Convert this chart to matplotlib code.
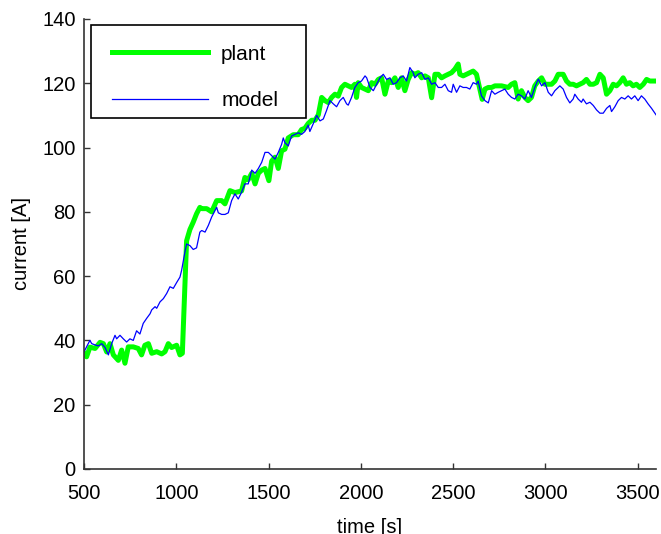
import matplotlib
matplotlib.use("Agg")
import matplotlib.pyplot as plt
from matplotlib.patches import Rectangle

# plant current [A] vs time [s]
t_plant = [496, 514, 532, 560, 587, 605, 623, 641, 659, 686, 704, 722, 740, 767,
           794, 812, 830, 849, 867, 894, 921, 939, 957, 975, 1002, 1020, 1033,
           1056, 1074, 1092, 1110, 1128, 1138, 1165, 1192, 1219, 1246, 1264,
           1291, 1318, 1354, 1372, 1390, 1409, 1427, 1445, 1463, 1481, 1502,
           1517, 1535, 1553, 1571, 1589, 1607, 1634, 1661, 1679, 1697, 1715,
           1734, 1752, 1770, 1788, 1806, 1824, 1842, 1860, 1878, 1896, 1914,
           1932, 1950, 1968, 1977, 1986, 2004, 2023, 2041, 2059, 2077, 2095,
           2113, 2131, 2149, 2167, 2185, 2203, 2221, 2239, 2257, 2275, 2293,
           2311, 2330, 2348, 2366, 2384, 2402, 2420, 2438, 2456, 2474, 2492,
           2510, 2528, 2537, 2555, 2573, 2591, 2609, 2627, 2645, 2658, 2673,
           2691, 2709, 2727, 2763, 2799, 2817, 2835, 2853, 2871, 2889, 2907,
           2925, 2943, 2962, 2980, 2998, 3034, 3052, 3070, 3097, 3115, 3133,
           3151, 3169, 3187, 3205, 3223, 3242, 3260, 3278, 3296, 3314, 3332,
           3350, 3368, 3386, 3404, 3422, 3440, 3458, 3476, 3494, 3512, 3531,
           3549, 3567, 3585, 3600]
i_plant = [36.4, 34.9, 37.9, 37.5, 39.4, 39.0, 36.4, 39.0, 35.5, 33.8, 37.0, 32.9,
           38.0, 38.0, 37.5, 35.5, 38.5, 39.0, 36.0, 36.5, 35.8, 36.5, 39.0, 37.8,
           38.5, 35.5, 36.0, 71.0, 74.5, 76.8, 79.4, 81.4, 81.0, 81.0, 80.0, 83.5,
           83.5, 82.5, 86.6, 86.0, 86.5, 90.7, 90.0, 92.0, 88.7, 92.0, 93.0, 93.5,
           89.7, 95.8, 97.0, 93.5, 99.0, 99.5, 103.0, 104.0, 104.0, 105.6, 106.0,
           107.5, 108.5, 108.5, 110.2, 115.6, 114.6, 114.0, 115.6, 116.6, 116.0,
           118.7, 119.7, 119.2, 118.7, 119.7, 115.6, 120.2, 118.7, 118.2, 117.7,
           120.2, 119.7, 121.2, 121.7, 116.6, 120.7, 120.2, 121.7, 118.7, 121.7,
           117.7, 121.2, 123.3, 122.8, 123.3, 121.7, 122.3, 121.7, 115.5, 122.8,
           122.8, 121.7, 122.3, 122.8, 123.3, 124.4, 126.0, 122.8, 122.3, 122.8,
           123.3, 123.8, 122.8, 118.2, 115.0, 118.2, 118.7, 118.7, 119.2, 119.2,
           118.7, 119.7, 120.2, 115.1, 117.7, 115.6, 114.6, 115.6, 119.2, 120.7,
           121.7, 119.7, 119.7, 120.7, 122.8, 122.8, 120.7, 119.7, 119.7, 119.2,
           119.7, 120.2, 121.2, 119.7, 119.7, 120.2, 122.8, 121.7, 116.6, 117.7,
           119.7, 119.2, 120.2, 121.7, 119.7, 120.2, 119.2, 119.7, 118.7, 119.7,
           121.2, 120.7, 120.7, 120.7]

# model current [A] vs time [s]
t_model = [496, 514, 532, 542, 560, 578, 596, 614, 632, 650, 668, 677, 695, 713,
           731, 749, 767, 785, 803, 821, 840, 858, 867, 885, 894, 912, 930, 948,
           966, 984, 1002, 1020, 1029, 1047, 1056, 1074, 1092, 1110, 1128, 1138,
           1156, 1174, 1192, 1210, 1219, 1228, 1246, 1264, 1282, 1300, 1318,
           1336, 1354, 1372, 1390, 1409, 1427, 1445, 1463, 1481, 1499, 1517,
           1535, 1553, 1571, 1580, 1589, 1607, 1625, 1643, 1661, 1679, 1697,
           1715, 1724, 1743, 1761, 1779, 1797, 1815, 1833, 1851, 1869, 1887,
           1905, 1923, 1932, 1950, 1968, 1986, 2004, 2023, 2032, 2050, 2068,
           2086, 2104, 2122, 2140, 2158, 2176, 2194, 2212, 2230, 2248, 2266,
           2284, 2293, 2311, 2330, 2348, 2366, 2384, 2402, 2420, 2438, 2456,
           2474, 2492, 2501, 2519, 2537, 2555, 2573, 2591, 2609, 2627, 2636,
           2654, 2673, 2691, 2709, 2727, 2745, 2763, 2781, 2799, 2817, 2835,
           2853, 2871, 2889, 2907, 2925, 2943, 2962, 2980, 2998, 3016, 3034,
           3052, 3079, 3097, 3115, 3133, 3151, 3160, 3178, 3196, 3205, 3223,
           3242, 3260, 3278, 3296, 3314, 3332, 3350, 3359, 3377, 3395, 3413,
           3431, 3449, 3467, 3485, 3503, 3521, 3539, 3557, 3576, 3594, 3600]
i_model = [36.0, 38.0, 40.0, 39.0, 38.6, 38.3, 39.0, 37.8, 35.5, 39.0, 41.6, 40.5,
           41.6, 40.5, 39.5, 40.5, 40.0, 43.0, 42.0, 45.3, 46.9, 48.3, 49.5, 50.5,
           50.0, 52.0, 53.0, 54.6, 56.7, 56.2, 58.0, 59.7, 61.8, 67.5, 70.0, 69.5,
           68.3, 68.8, 73.7, 74.2, 73.7, 75.8, 78.4, 80.4, 81.4, 79.7, 79.2, 79.2,
           79.7, 83.5, 85.6, 84.0, 86.1, 88.7, 88.7, 93.0, 92.0, 93.5, 95.4, 98.5,
           98.5, 97.5, 96.4, 98.5, 101.0, 103.0, 101.5, 100.5, 103.6, 104.1, 104.6,
           104.1, 105.0, 107.0, 105.0, 107.5, 110.0, 108.3, 108.9, 111.6, 114.6,
           113.6, 112.7, 114.6, 115.6, 113.6, 113.2, 115.6, 118.7, 120.2, 120.7,
           122.3, 121.7, 118.7, 117.7, 119.7, 121.7, 122.8, 121.2, 121.7, 119.7,
           120.2, 121.7, 122.3, 120.7, 124.9, 123.3, 121.7, 122.8, 123.3, 121.2,
           121.7, 119.7, 120.2, 118.7, 118.7, 119.7, 117.7, 117.2, 119.7, 117.2,
           119.2, 118.7, 118.7, 118.2, 120.2, 119.7, 120.7, 116.1, 114.6, 113.9,
           117.7, 116.6, 117.2, 117.7, 118.2, 116.6, 115.6, 115.1, 116.6, 116.1,
           115.1, 117.7, 115.6, 118.7, 121.3, 119.2, 120.2, 117.2, 116.1, 117.7,
           119.2, 118.2, 115.6, 113.9, 115.1, 116.6, 115.1, 114.1, 115.1, 113.6,
           114.1, 113.1, 111.7, 110.7, 110.7, 112.2, 113.1, 111.2, 112.7, 114.6,
           115.6, 115.1, 116.1, 115.1, 116.1, 114.6, 116.1, 115.1, 113.6, 112.2,
           110.7, 110.2]

x_ticks = [500, 1000, 1500, 2000, 2500, 3000, 3500]
y_ticks = [0, 20, 40, 60, 80, 100, 120, 140]

plt.rcParams["font.family"] = ["Liberation Sans", "DejaVu Sans"]
plt.rcParams["font.size"] = 14.5

fig = plt.figure(figsize=(6.61, 5.34), dpi=100)
ax = fig.add_axes([84 / 661, 65 / 534, 572 / 661, 450 / 534])

ax.plot(t_plant, i_plant, color="#00ff00", lw=3.6, label="plant", solid_joinstyle="round")
ax.plot(t_model, i_model, color="#0000ff", lw=0.9, label="model")

ax.set_xlim(500, 3600)
ax.set_ylim(0, 140)
ax.set_xticks(x_ticks)
ax.set_yticks(y_ticks)
ax.tick_params(direction="in", length=4, width=1, color="#333333")
ax.tick_params(axis="x", pad=10.5)
ax.tick_params(axis="y", pad=6)
for side in ("top", "right"):
    ax.spines[side].set_visible(False)
for side in ("left", "bottom"):
    ax.spines[side].set_color("#333333")
    ax.spines[side].set_linewidth(1.2)

ax.set_xlabel("time [s]", labelpad=11)
ax.set_ylabel("current [A]", labelpad=8)

# legend frame drawn separately (MATLAB-like box)
frame = Rectangle((0.0122, 0.78), 0.376, 0.2067, transform=ax.transAxes,
                  facecolor="white", edgecolor="black", lw=1.2, zorder=4)
ax.add_patch(frame)
leg = ax.legend(loc="upper left", bbox_to_anchor=(0.0157, 0.9844), borderaxespad=0,
                frameon=False, fontsize=15,
                handlelength=4.6, handletextpad=0.65, labelspacing=1.3,
                borderpad=0.9)
leg.set_zorder(5)

fig.savefig("out.png", dpi=100)
